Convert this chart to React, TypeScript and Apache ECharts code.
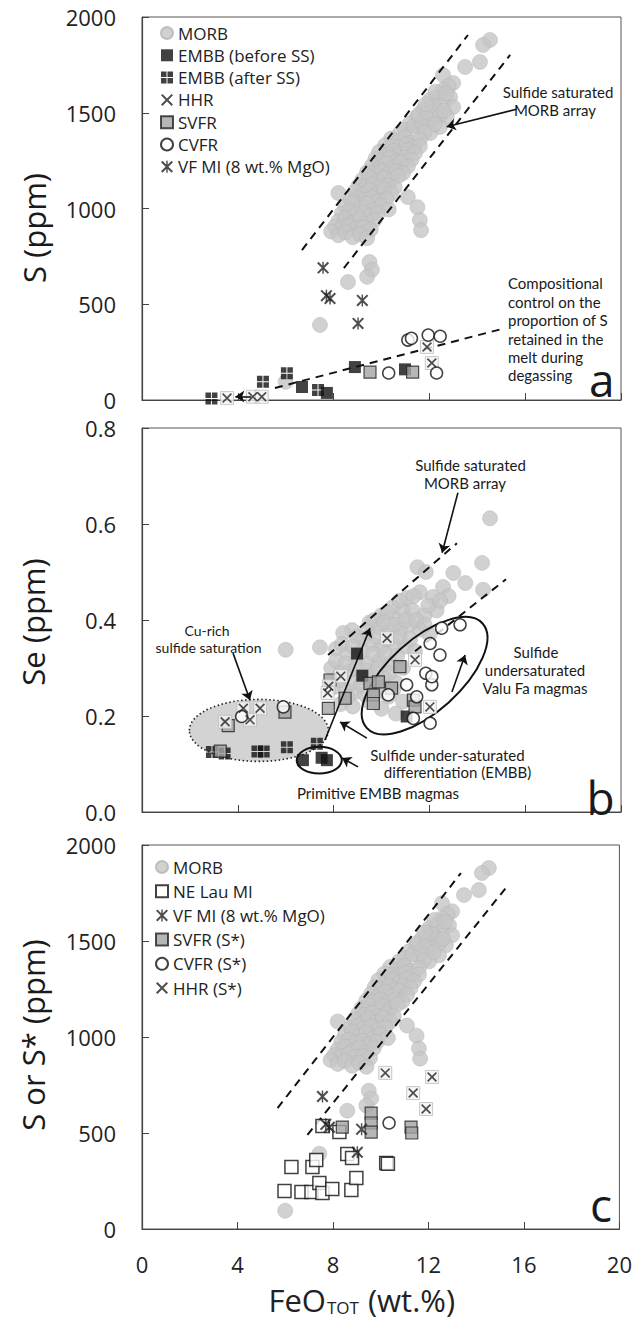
import React, { useEffect, useRef } from 'react';
import * as echarts from 'echarts';

type Pt = [number, number];

const FONT = '"Open Sans", "DejaVu Sans", sans-serif';
const ANNO = 'Lato, "Open Sans", sans-serif';

// ---------- X axis (FeO_TOT wt.%) ----------
const xRange = { min: 0, max: 20, step: 4 };

// ---------- Panel a : S (ppm) ----------
const morbS: Pt[] = [
  [14.53, 1880], [14.24, 1854], [14.11, 1765], [13.49, 1739], [12.99, 1655], [12.57, 1697], [12.8, 1640],
  [12.57, 1619], [12.86, 1582], [12.32, 1582], [12.03, 1567], [12.57, 1551], [12.99, 1530], [11.73, 1514],
  [12.32, 1514], [11.48, 1478], [12.73, 1478], [11.9, 1462], [11.19, 1446], [12.2, 1470], [12.44, 1426],
  [11.6, 1420], [10.77, 1394], [12.03, 1394],
  [11.0, 1410], [11.35, 1430], [11.7, 1450], [11.55, 1490], [11.95, 1500], [12.15, 1540], [12.45, 1490],
  [12.6, 1510], [11.85, 1545], [12.25, 1610], [12.7, 1600], [12.2, 1440], [11.8, 1400],
  [10.4, 1365], [10.7, 1350], [11.0, 1370], [11.3, 1345], [11.6, 1360],
  [10.15, 1330], [10.45, 1325], [10.75, 1320], [11.05, 1335], [11.35, 1320], [11.6, 1325],
  [9.9, 1295], [10.2, 1280], [10.5, 1300], [10.8, 1285], [11.1, 1305], [11.4, 1290],
  [9.75, 1260], [10.05, 1250], [10.35, 1265], [10.65, 1250], [10.95, 1265], [11.25, 1255],
  [9.6, 1225], [9.9, 1210], [10.2, 1235], [10.5, 1215], [10.8, 1240], [11.1, 1220],
  [9.4, 1190], [9.7, 1185], [10.0, 1195], [10.3, 1180], [10.6, 1195], [10.9, 1185],
  [9.2, 1150], [9.5, 1165], [9.8, 1140], [10.1, 1160], [10.4, 1145], [10.7, 1170],
  [9.05, 1120], [9.35, 1115], [9.65, 1125], [9.95, 1110], [10.25, 1120], [10.55, 1110],
  [8.9, 1090], [9.2, 1070], [9.5, 1095], [9.8, 1075], [10.1, 1100], [10.4, 1080],
  [8.7, 1050], [9.0, 1055], [9.3, 1045], [9.6, 1055], [9.9, 1040], [10.2, 1050],
  [8.5, 1010], [8.8, 1030], [9.1, 1000], [9.4, 1025], [9.7, 995], [10.0, 1015],
  [8.35, 975], [8.65, 985], [8.95, 970], [9.25, 980], [9.55, 965], [9.85, 975],
  [8.2, 935], [8.5, 950], [8.8, 925], [9.1, 945], [9.4, 920], [9.7, 940],
  [8.05, 905], [8.35, 900], [8.65, 910], [8.95, 895], [9.25, 900], [9.55, 890],
  [7.9, 880], [8.2, 860], [8.5, 875], [8.8, 850], [9.1, 865], [9.4, 845],
  [8.2, 1081], [11.1, 1060], [11.5, 1007], [11.6, 940], [11.65, 887], [10.3, 995],
  [9.5, 720], [9.6, 680], [9.4, 643], [8.6, 616], [7.43, 392], [6.0, 95],
];
const embbBeforeS: Pt[] = [[6.68, 68], [7.72, 37], [8.89, 172], [10.98, 160]];
const embbAfterS: Pt[] = [[2.9, 8], [5.05, 95], [6.05, 140], [7.35, 52]];
const hhrS: Pt[] = [[3.55, 10], [4.63, 17], [5.0, 17], [11.9, 277], [12.1, 193]];
const svfrS: Pt[] = [[9.52, 146], [11.3, 146]];
const cvfrS: Pt[] = [[11.1, 313], [11.25, 322], [11.95, 339], [12.45, 333], [10.3, 141], [12.3, 141]];
const vfmiS: Pt[] = [[7.56, 690], [7.7, 545], [7.85, 530], [9.2, 520], [9.02, 400]];
const satUpperA: Pt[] = [[6.68, 783], [13.61, 1906]];
const satLowerA: Pt[] = [[8.43, 689], [15.37, 1802]];
const compControlA: Pt[] = [[5.55, 63], [15.03, 371]];
const arrowsA: [Pt, Pt][] = [
  [[15.64, 1518], [12.72, 1427]],
  [[4.55, 18], [3.9, 18]],
];

// ---------- Panel b : Se (ppm) ----------
const morbSe: Pt[] = [
  [14.53, 0.612], [14.2, 0.519], [14.24, 0.463], [13.5, 0.477], [13.0, 0.498], [11.5, 0.51], [11.85, 0.5],
  [12.57, 0.469], [11.6, 0.458], [12.15, 0.448], [11.06, 0.446], [12.8, 0.45],
  [10.48, 0.427], [10.9, 0.42], [11.3, 0.42], [10.0, 0.41], [10.6, 0.4], [11.8, 0.41], [12.3, 0.42],
  [10.25, 0.415], [10.75, 0.44], [11.35, 0.45], [11.95, 0.43], [12.45, 0.44],
  [9.5, 0.395], [9.9, 0.385], [10.3, 0.375], [10.8, 0.38], [11.2, 0.39], [11.6, 0.38], [12.0, 0.37],
  [9.7, 0.4], [10.1, 0.395], [10.55, 0.39], [11.0, 0.4], [11.45, 0.4], [11.8, 0.39],
  [8.77, 0.379], [8.4, 0.373], [9.2, 0.36], [9.6, 0.35], [10.0, 0.345], [10.5, 0.35], [11.0, 0.345], [11.4, 0.335],
  [8.95, 0.365], [9.4, 0.375], [9.8, 0.365], [10.25, 0.36], [10.75, 0.365], [11.2, 0.36],
  [8.1, 0.34], [8.6, 0.33], [9.0, 0.32], [9.4, 0.31], [9.9, 0.315], [10.4, 0.31], [10.9, 0.3],
  [8.35, 0.35], [8.8, 0.345], [9.2, 0.335], [9.65, 0.33], [10.15, 0.33], [10.65, 0.325],
  [7.9, 0.3], [8.3, 0.29], [8.7, 0.295], [9.2, 0.28], [9.6, 0.285], [10.1, 0.28], [10.6, 0.27],
  [8.1, 0.315], [8.5, 0.31], [8.95, 0.3], [9.4, 0.295], [9.85, 0.3], [10.35, 0.29],
  [8.0, 0.26], [8.5, 0.255], [8.9, 0.25], [9.3, 0.245], [9.8, 0.25], [10.3, 0.24], [10.9, 0.23],
  [8.25, 0.275], [8.75, 0.27], [9.15, 0.265], [9.55, 0.265], [10.05, 0.26], [10.5, 0.255],
  [8.3, 0.225], [8.8, 0.22], [10.0, 0.215], [10.6, 0.205], [8.6, 0.24], [9.5, 0.23],
  [7.43, 0.343], [6.0, 0.338],
];
const embbBeforeSe: Pt[] = [[6.72, 0.108], [7.5, 0.113], [7.72, 0.108], [8.98, 0.33], [9.2, 0.284], [11.05, 0.199]];
const embbAfterSe: Pt[] = [[2.92, 0.125], [3.45, 0.122], [4.82, 0.126], [5.08, 0.126], [6.05, 0.135], [7.3, 0.142]];
const hhrSe: Pt[] = [
  [10.23, 0.362], [11.4, 0.317], [8.3, 0.283], [7.8, 0.262], [7.75, 0.248], [12.02, 0.219],
  [3.47, 0.188], [4.23, 0.216], [4.93, 0.216], [4.51, 0.192],
];
const svfrSe: Pt[] = [
  [3.27, 0.127], [3.6, 0.18], [5.97, 0.208],
  [7.85, 0.275], [7.78, 0.216], [8.48, 0.237], [9.52, 0.268], [9.87, 0.271], [9.66, 0.244], [9.66, 0.226],
  [10.42, 0.258], [10.77, 0.303], [11.33, 0.233], [11.4, 0.219],
];
const cvfrSe: Pt[] = [
  [13.28, 0.39], [12.51, 0.383], [12.03, 0.351], [12.44, 0.327], [11.85, 0.289], [12.1, 0.265], [11.05, 0.265],
  [10.28, 0.244], [11.47, 0.24], [11.33, 0.195], [12.03, 0.185], [5.9, 0.219], [4.16, 0.199], [12.1, 0.282],
];
const satUpperB: Pt[] = [[7.77, 0.327], [13.15, 0.56]];
const satLowerB: Pt[] = [[11.4, 0.335], [15.2, 0.485]];
const arrowsB: [Pt, Pt][] = [
  [[13.19, 0.665], [12.53, 0.54]],
  [[3.8, 0.331], [4.51, 0.233]],
  [[7.64, 0.15], [9.52, 0.383]],
  [[9.39, 0.154], [8.27, 0.1875]],
  [[9.02, 0.094], [8.35, 0.1125]],
  [[12.94, 0.25], [13.49, 0.327]],
];
const cuRichCenter: Pt = [4.88, 0.17];
const valuFaCenter: Pt = [11.8, 0.284];
const primitiveCenter: Pt = [7.4, 0.108];

// ---------- Panel c : S or S* (ppm) ----------
const neLauS: Pt[] = [
  [6.26, 323], [7.14, 323], [7.3, 359], [5.97, 198], [6.68, 193], [7.1, 193], [7.43, 240], [7.56, 188],
  [7.97, 208], [8.77, 203], [8.98, 266], [8.6, 391], [8.8, 370], [10.23, 344], [10.3, 340], [8.27, 505], [7.56, 536],
];
const svfrSstar: Pt[] = [[8.39, 531], [9.6, 604], [9.6, 552], [9.6, 505], [11.27, 531], [11.3, 500]];
const cvfrSstar: Pt[] = [[10.35, 552]];
const hhrSstar: Pt[] = [[10.19, 813], [12.15, 792], [11.36, 708], [11.9, 625]];
const satUpperC: Pt[] = [[5.68, 630], [13.36, 1854]];
const satLowerC: Pt[] = [[6.93, 490], [15.24, 1776]];

// ---------- symbols ----------
const X_PATH = 'path://M0,1.2L1.2,0L10,8.8L8.8,10Z M8.8,0L10,1.2L1.2,10L0,8.8Z';
const AST_PATH = 'path://M0,1.2L1.2,0L10,8.8L8.8,10Z M8.8,0L10,1.2L1.2,10L0,8.8Z M4.4,0L5.6,0L5.6,10L4.4,10Z';
const CROSS_SQ = 'path://M0,0L4.6,0L4.6,4.6L0,4.6Z M5.4,0L10,0L10,4.6L5.4,4.6Z M0,5.4L4.6,5.4L4.6,10L0,10Z M5.4,5.4L10,5.4L10,10L5.4,10Z';

const K: Record<string, any> = {
  morb: { symbol: 'circle', symbolSize: 15, itemStyle: { color: '#c5c5c5', borderColor: '#b5b5b5', borderWidth: 0.6 }, z: 2 },
  before: { symbol: 'rect', symbolSize: 12, itemStyle: { color: '#111' }, z: 4 },
  after: { symbol: CROSS_SQ, symbolSize: 12, itemStyle: { color: '#111' }, z: 4 },
  hhrBox: { symbol: 'rect', symbolSize: 13, itemStyle: { color: '#f4f4f4', borderColor: '#bdbdbd', borderWidth: 1 }, z: 4 },
  hhr: { symbol: X_PATH, symbolSize: 10, itemStyle: { color: '#222' }, z: 5 },
  svfr: { symbol: 'rect', symbolSize: 12, itemStyle: { color: '#a4a4a4', borderColor: '#222', borderWidth: 1.2 }, z: 4 },
  cvfr: { symbol: 'circle', symbolSize: 12, itemStyle: { color: '#fff', borderColor: '#111', borderWidth: 1.5 }, z: 4 },
  vfmi: { symbol: AST_PATH, symbolSize: 12, itemStyle: { color: '#222' }, z: 5 },
  nelau: { symbol: 'rect', symbolSize: 13, itemStyle: { color: '#fff', borderColor: '#111', borderWidth: 1.5 }, z: 4 },
};

function sc(name: string, data: Pt[], g: number, kind: string) {
  return { type: 'scatter', name, data, xAxisIndex: g, yAxisIndex: g, ...K[kind], silent: true, emphasis: { disabled: true } };
}
function dash(data: Pt[], g: number) {
  return {
    type: 'line', data, xAxisIndex: g, yAxisIndex: g, symbol: 'none', silent: true, z: 3,
    lineStyle: { type: [8, 6], width: 2, color: '#111' },
  };
}
function arrows(list: [Pt, Pt][], g: number) {
  return {
    type: 'scatter', name: 'arrows' + g, data: [], xAxisIndex: g, yAxisIndex: g, silent: true,
    markLine: {
      silent: true, symbol: ['none', 'arrow'], symbolSize: 9, animation: false,
      label: { show: false }, emphasis: { disabled: true },
      lineStyle: { color: '#111', width: 1.6, type: 'solid' },
      data: list.map(([a, b]) => [{ coord: a }, { coord: b }]),
    },
  };
}

const grids = [
  { left: 142, top: 17, width: 479, height: 383 },
  { left: 142, top: 428, width: 479, height: 384 },
  { left: 142, top: 845, width: 479, height: 384 },
].map((g) => ({ ...g, show: true, borderColor: '#555', borderWidth: 1, backgroundColor: 'transparent' }));

const yRanges = [
  { min: 0, max: 2000, interval: 500, fmt: (v: number) => String(v) },
  { min: 0, max: 0.8, interval: 0.2, fmt: (v: number) => v.toFixed(1) },
  { min: 0, max: 2000, interval: 500, fmt: (v: number) => String(v) },
];

const legendText = { fontSize: 17, fontFamily: FONT, color: '#222' };

const option: any = {
  animation: false,
  grid: grids,
  xAxis: [0, 1, 2].map((i) => ({
    type: 'value', gridIndex: i, min: xRange.min, max: xRange.max, interval: xRange.step,
    axisLine: { show: true, lineStyle: { color: '#444', width: 1.2 } },
    axisTick: { show: true, inside: true, length: 7, lineStyle: { color: '#444' } },
    splitLine: { show: false },
    axisLabel: { show: i === 2, fontSize: 22, fontFamily: FONT, color: '#222', margin: 24 },
    ...(i === 2
      ? {
          name: '{n|FeO}{s|TOT}{n| (wt.%)}',
          nameLocation: 'middle',
          nameGap: 55,
          nameTextStyle: {
            padding: [0, 38, 0, 0],
            rich: {
              n: { fontSize: 31, fontFamily: FONT, color: '#222', verticalAlign: 'top', lineHeight: 32 },
              s: { fontSize: 17, fontFamily: FONT, color: '#222', verticalAlign: 'bottom', lineHeight: 17, padding: [23, 1, 0, 1] },
            },
          },
        }
      : {}),
  })),
  yAxis: [0, 1, 2].map((i) => ({
    type: 'value', gridIndex: i, min: yRanges[i].min, max: yRanges[i].max, interval: yRanges[i].interval,
    axisLine: { show: true, lineStyle: { color: '#444', width: 1.2 } },
    axisTick: { show: true, inside: true, length: 7, lineStyle: { color: '#444' } },
    splitLine: { show: false },
    axisLabel: { fontSize: 22, fontFamily: FONT, color: '#222', margin: 26, formatter: yRanges[i].fmt },
  })),
  legend: [
    {
      data: ['MORB', 'EMBB (before SS)', 'EMBB (after SS)', 'HHR', 'SVFR', 'CVFR', 'VF MI (8 wt.% MgO)'],
      orient: 'vertical', left: 155, top: 19.5, itemWidth: 12, itemHeight: 12, itemGap: 5.3,
      selectedMode: false, textStyle: legendText,
    },
    {
      data: ['MORB', 'NE Lau MI', 'VF MI (8 wt.% MgO)', 'SVFR (S*)', 'CVFR (S*)', 'HHR (S*)'],
      orient: 'vertical', left: 150, top: 853.5, itemWidth: 12, itemHeight: 12, itemGap: 7.2,
      selectedMode: false, textStyle: legendText,
    },
  ],
  series: [
    // panel a
    sc('MORB', morbS, 0, 'morb'),
    dash(satUpperA, 0), dash(satLowerA, 0), dash(compControlA, 0),
    sc('EMBB (before SS)', embbBeforeS, 0, 'before'),
    sc('EMBB (after SS)', embbAfterS, 0, 'after'),
    sc('HHR box', hhrS, 0, 'hhrBox'),
    sc('HHR', hhrS, 0, 'hhr'),
    sc('SVFR', svfrS, 0, 'svfr'),
    sc('CVFR', cvfrS, 0, 'cvfr'),
    sc('VF MI (8 wt.% MgO)', vfmiS, 0, 'vfmi'),
    arrows(arrowsA, 0),
    // panel b
    sc('MORB', morbSe, 1, 'morb'),
    dash(satUpperB, 1), dash(satLowerB, 1),
    sc('EMBB (before SS)', embbBeforeSe, 1, 'before'),
    sc('EMBB (after SS)', embbAfterSe, 1, 'after'),
    sc('SVFR', svfrSe, 1, 'svfr'),
    sc('HHR box', hhrSe, 1, 'hhrBox'),
    sc('HHR', hhrSe, 1, 'hhr'),
    sc('CVFR', cvfrSe, 1, 'cvfr'),
    arrows(arrowsB, 1),
    // panel c
    sc('MORB', morbS, 2, 'morb'),
    dash(satUpperC, 2), dash(satLowerC, 2),
    sc('NE Lau MI', neLauS, 2, 'nelau'),
    sc('SVFR (S*)', svfrSstar, 2, 'svfr'),
    sc('CVFR (S*)', cvfrSstar, 2, 'cvfr'),
    sc('HHR box', hhrSstar, 2, 'hhrBox'),
    sc('HHR (S*)', hhrSstar, 2, 'hhr'),
    sc('VF MI (8 wt.% MgO)', vfmiS, 2, 'vfmi'),
  ],
};

function txt(text: string, x: number, y: number, size: number, align = 'center', family = ANNO, rotation = 0) {
  return {
    type: 'text', x, y, rotation, silent: true, z: 10,
    style: {
      text, fontSize: size, fontFamily: family, fill: '#1a1a1a',
      align, textAlign: align, verticalAlign: 'middle', textVerticalAlign: 'middle',
    },
  };
}

export default function App() {
  const ref = useRef<HTMLDivElement>(null);
  useEffect(() => {
    const chart = echarts.init(ref.current!, null, { renderer: 'svg' });
    chart.setOption(option);
    const cu = chart.convertToPixel({ gridIndex: 1 } as any, cuRichCenter) as number[];
    const vf = chart.convertToPixel({ gridIndex: 1 } as any, valuFaCenter) as number[];
    const pr = chart.convertToPixel({ gridIndex: 1 } as any, primitiveCenter) as number[];
    const graphic: any[] = [
      {
        type: 'ellipse', x: cu[0], y: cu[1], silent: true, z: 1,
        shape: { cx: 0, cy: 0, rx: 69.5, ry: 31 },
        style: { fill: '#d3d3d3', stroke: '#222', lineWidth: 1.6, lineDash: [1.5, 2.5] },
      },
      {
        type: 'ellipse', x: vf[0], y: vf[1], rotation: (42 * Math.PI) / 180, silent: true, z: 3,
        shape: { cx: 0, cy: 0, rx: 78, ry: 36 },
        style: { fill: 'none', stroke: '#111', lineWidth: 2 },
      },
      {
        type: 'ellipse', x: pr[0], y: pr[1], silent: true, z: 3,
        shape: { cx: 0, cy: 0, rx: 22.5, ry: 13.3 },
        style: { fill: 'none', stroke: '#111', lineWidth: 2 },
      },
      // y axis names
      txt('S (ppm)', 34, 228, 31, 'center', FONT, Math.PI / 2),
      txt('Se (ppm)', 33, 622, 31, 'center', FONT, Math.PI / 2),
      txt('S or S* (ppm)', 33, 1035, 31, 'center', FONT, Math.PI / 2),
      // panel a
      txt('Sulfide saturated', 558, 92, 15),
      txt('MORB array', 555, 110, 15),
      txt('Compositional', 508, 283, 15, 'left'),
      txt('control on the', 508, 302, 15, 'left'),
      txt('proportion of S', 508, 320, 15, 'left'),
      txt('retained in the', 508, 339, 15, 'left'),
      txt('melt during', 508, 357, 15, 'left'),
      txt('degassing', 508, 375, 15, 'left'),
      txt('a', 601.7, 379, 46, 'center', FONT),
      // panel b
      txt('Sulfide saturated', 470.5, 465, 15),
      txt('MORB array', 465, 483, 15),
      txt('Cu-rich', 207, 630.5, 14),
      txt('sulfide saturation', 208.5, 647, 14),
      txt('Sulfide', 536, 652, 15),
      txt('undersaturated', 535, 670, 15),
      txt('Valu Fa magmas', 535, 688, 15),
      txt('Sulfide under-saturated', 447.5, 755, 15),
      txt('differentiation (EMBB)', 457.5, 772, 15),
      txt('Primitive EMBB magmas', 378, 793, 15),
      txt('b', 600.5, 797, 46, 'center', FONT),
      // panel c
      txt('c', 601, 1204, 46, 'center', FONT),
    ];
    chart.setOption({ graphic });
    return () => chart.dispose();
  }, []);
  return <div ref={ref} style={{ position: 'absolute', left: 0, top: 0, width: 635, height: 1323 }} />;
}
